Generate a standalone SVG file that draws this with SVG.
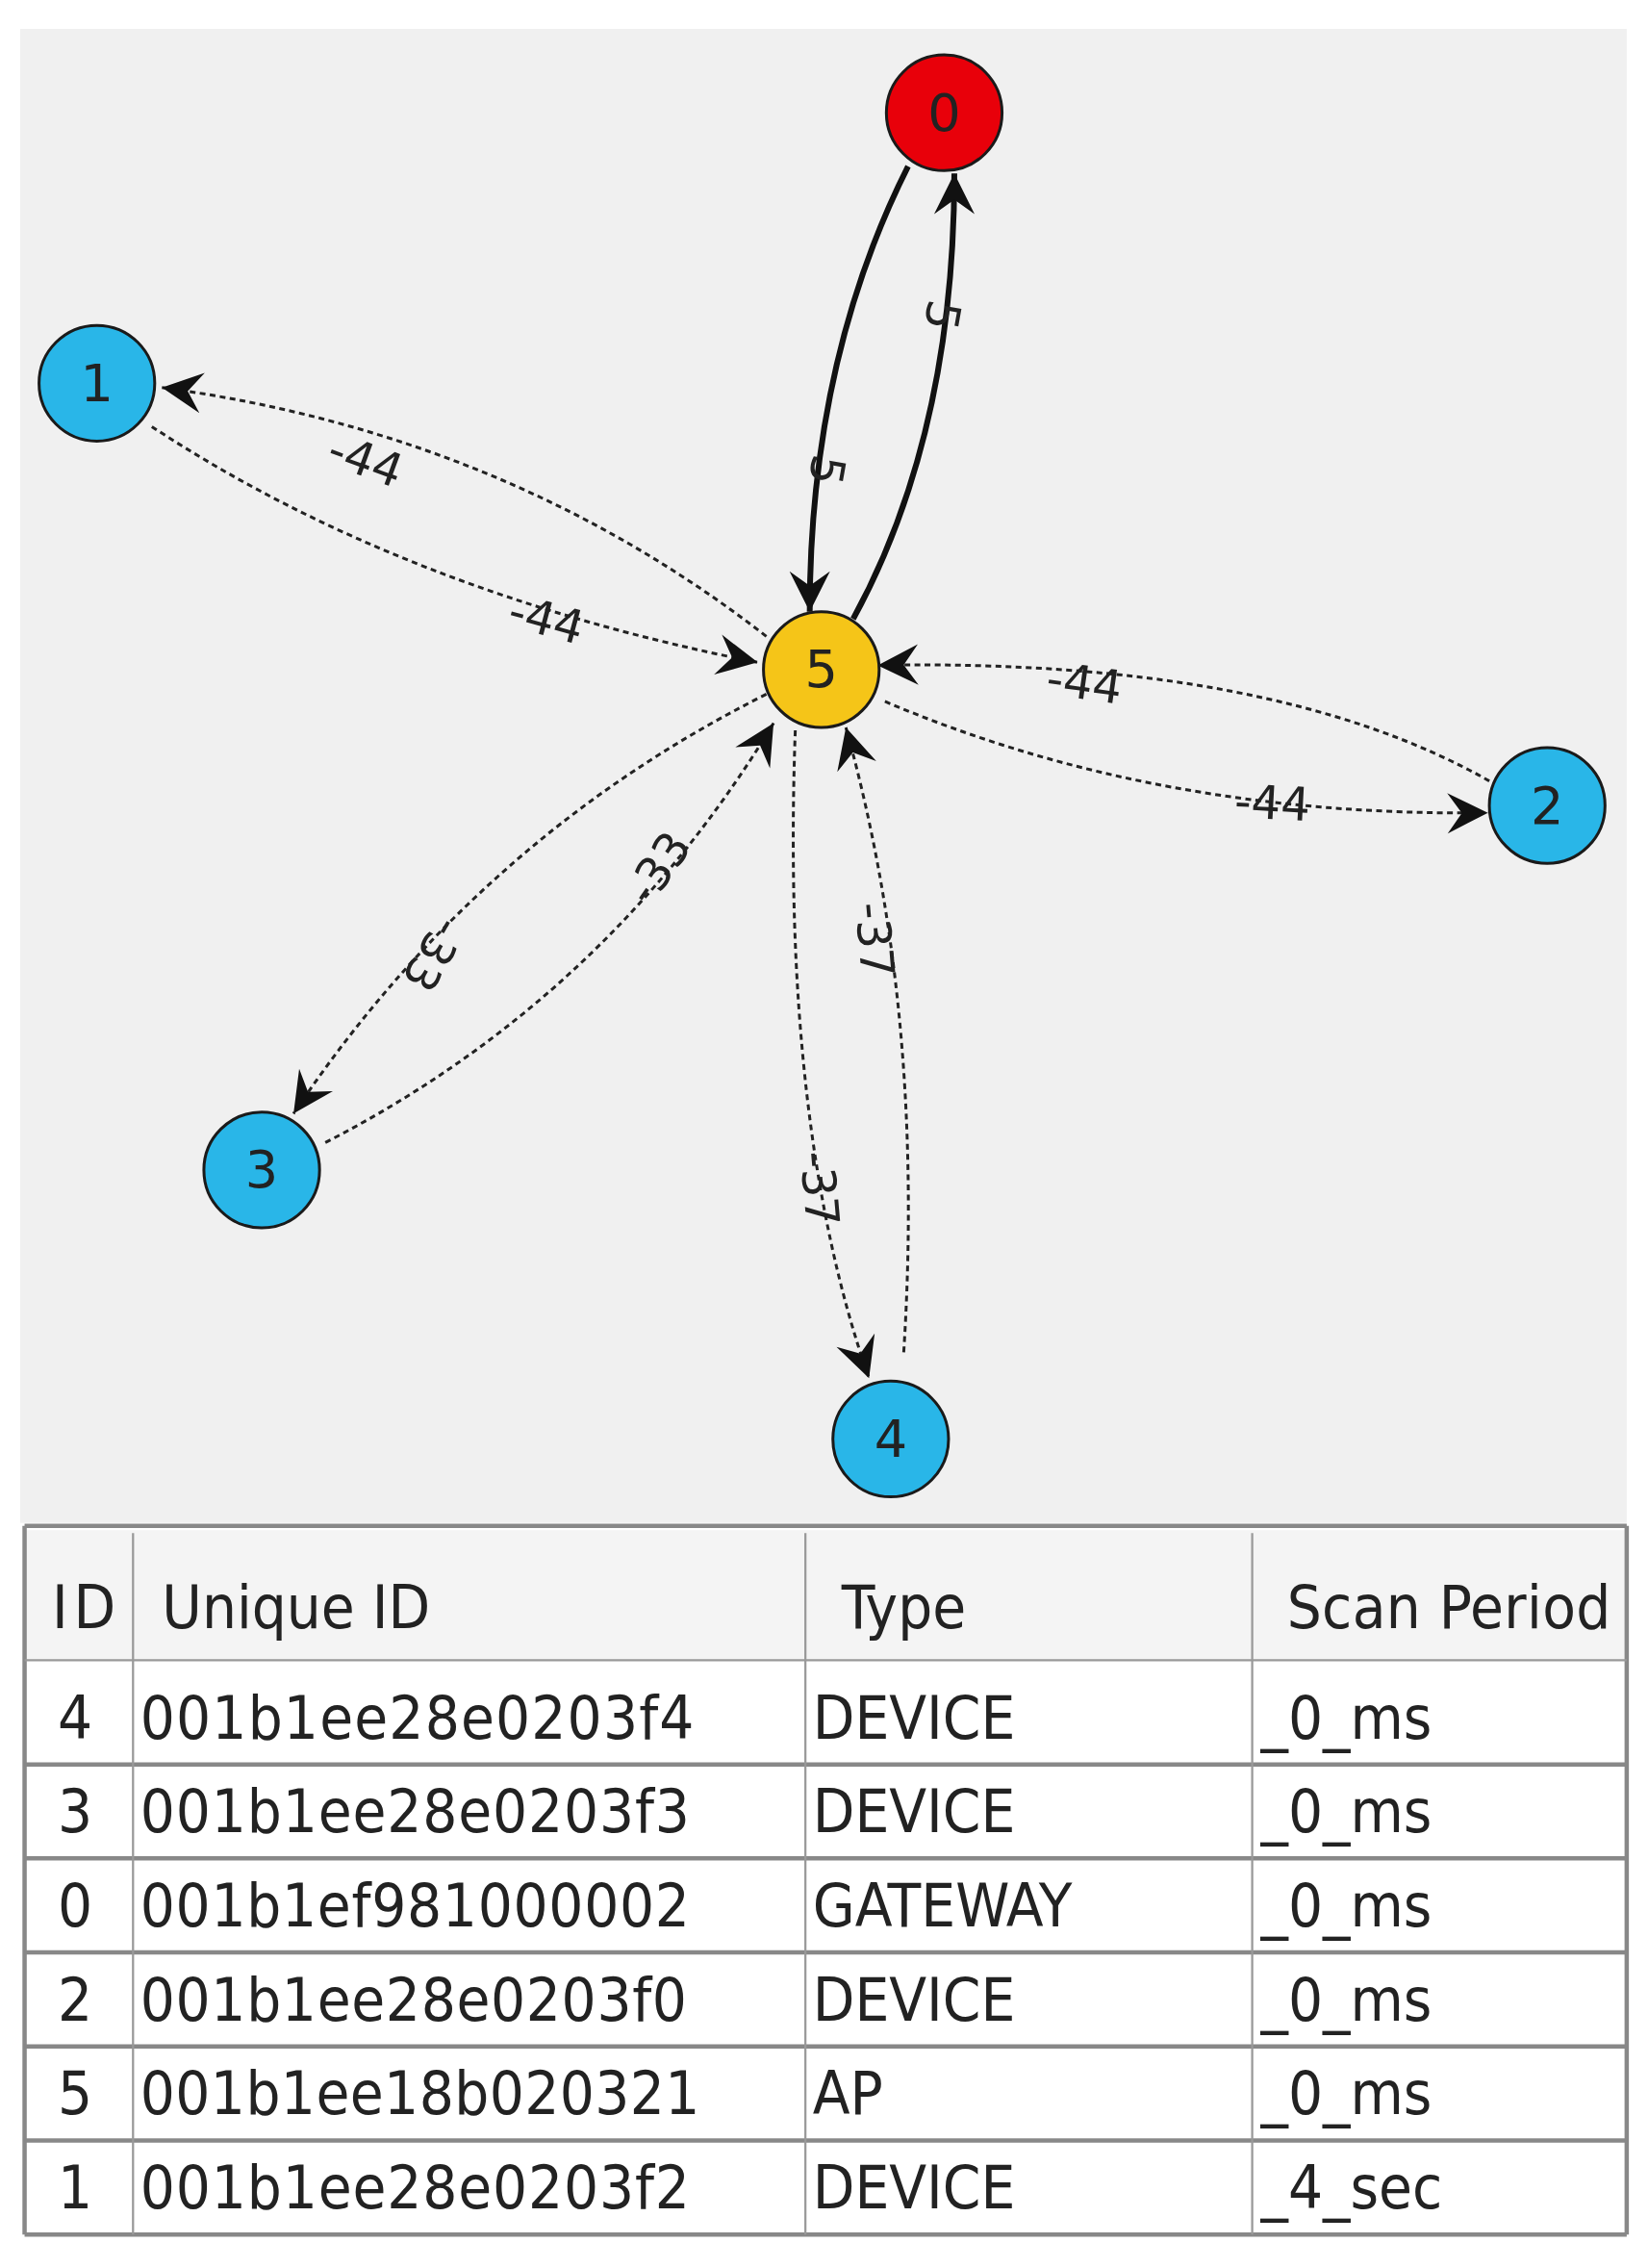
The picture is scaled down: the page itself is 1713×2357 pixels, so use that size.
<svg xmlns="http://www.w3.org/2000/svg" width="1713" height="2357" viewBox="0 0 1713 2357">
<style>
.n{stroke:#1a1a1a;stroke-width:2}
.nt{font-family:"DejaVu Sans",sans-serif;font-size:36px;fill:#222;text-anchor:middle;dominant-baseline:central}
.d{fill:none;stroke:#222;stroke-width:2;stroke-dasharray:4,3}
.s{fill:none;stroke:#111;stroke-width:4}
.el{font-family:"DejaVu Sans",sans-serif;font-size:32px;fill:#222;text-anchor:middle;dominant-baseline:central}
.tt{font-family:"DejaVu Sans Condensed","DejaVu Sans",sans-serif;font-size:42px;fill:#222}
.g{stroke:#888;stroke-width:3}
.gl{stroke:#999;stroke-width:1.5}
</style>
<defs>
<marker id="a" viewBox="-30 -15 32 30" markerWidth="32" markerHeight="30" refX="0" refY="0" orient="auto" markerUnits="userSpaceOnUse">
<path d="M0,0 L-28,-14 L-18,0 L-28,14 z" fill="#111"/>
</marker>
</defs>
<rect width="1713" height="2357" fill="#fff"/>
<g transform="scale(1.503)">
<rect x="14" y="20" width="1111" height="1033" fill="#f0f0f0"/>
<g id="connectors">
<path class="s" d="M628,115 Q560,250 560,423" marker-end="url(#a)"/>
<path class="s" d="M590,428 Q660,300 660,120" marker-end="url(#a)"/>
<path class="d" d="M530,440 Q350,300 112,268" marker-end="url(#a)"/>
<path class="d" d="M105,295 Q280,410 524,458" marker-end="url(#a)"/>
<path class="d" d="M1030,540 Q880,455 607,460" marker-end="url(#a)"/>
<path class="d" d="M612,485 Q800,565 1029,562" marker-end="url(#a)"/>
<path class="d" d="M530,480 Q330,580 203,770" marker-end="url(#a)"/>
<path class="d" d="M225,790 Q420,690 535,500" marker-end="url(#a)"/>
<path class="d" d="M550,505 Q540,780 601,953" marker-end="url(#a)"/>
<path class="d" d="M625,935 Q640,700 585,503" marker-end="url(#a)"/>
<text class="el" transform="translate(572,325) rotate(100)">5</text>
<text class="el" transform="translate(652,218) rotate(100)">5</text>
<text class="el" transform="translate(253,318) rotate(20)">-44</text>
<text class="el" transform="translate(378,428) rotate(15)">-44</text>
<text class="el" transform="translate(750,472) rotate(8)">-44</text>
<text class="el" transform="translate(880,555) rotate(3)">-44</text>
<text class="el" transform="translate(300,660) rotate(120)">-33</text>
<text class="el" transform="translate(455,600) rotate(-55)">-33</text>
<text class="el" transform="translate(567,822) rotate(85)">-37</text>
<text class="el" transform="translate(605,650) rotate(85)">-37</text>
</g>
<g id="node0"><circle class="n" cx="653" cy="78" r="40" fill="#e8000a"/><text class="nt" x="653" y="78">0</text></g>
<g id="node5"><circle class="n" cx="568" cy="463" r="40" fill="#f5c518"/><text class="nt" x="568" y="463">5</text></g>
<g id="node1"><circle class="n" cx="67" cy="265" r="40" fill="#29b6e8"/><text class="nt" x="67" y="265">1</text></g>
<g id="node2"><circle class="n" cx="1070" cy="557" r="40" fill="#29b6e8"/><text class="nt" x="1070" y="557">2</text></g>
<g id="node3"><circle class="n" cx="181" cy="809" r="40" fill="#29b6e8"/><text class="nt" x="181" y="809">3</text></g>
<g id="node4"><circle class="n" cx="616" cy="995" r="40" fill="#29b6e8"/><text class="nt" x="616" y="995">4</text></g>
<g id="table">
<rect x="17" y="1055" width="1108" height="490" fill="#fff"/>
<rect x="17" y="1058" width="1108" height="90" fill="#f4f4f4"/>
<line class="g" x1="17" y1="1055" x2="1125" y2="1055"/>
<line class="g" x1="17" y1="1545" x2="1125" y2="1545"/>
<line class="g" x1="17" y1="1055" x2="17" y2="1545"/>
<line class="g" x1="1125" y1="1055" x2="1125" y2="1545"/>
<line class="gl" x1="17" y1="1148" x2="1125" y2="1148"/>
<line class="g" x1="17" y1="1220" x2="1125" y2="1220"/>
<line class="g" x1="17" y1="1285" x2="1125" y2="1285"/>
<line class="g" x1="17" y1="1350" x2="1125" y2="1350"/>
<line class="g" x1="17" y1="1415" x2="1125" y2="1415"/>
<line class="g" x1="17" y1="1480" x2="1125" y2="1480"/>
<line class="gl" x1="92" y1="1060" x2="92" y2="1545"/>
<line class="gl" x1="557" y1="1060" x2="557" y2="1545"/>
<line class="gl" x1="866" y1="1060" x2="866" y2="1545"/>
<text class="tt" x="36" y="1126" textLength="44">ID</text>
<text class="tt" x="112" y="1126">Unique ID</text>
<text class="tt" x="582" y="1126">Type</text>
<text class="tt" x="890" y="1126" textLength="224">Scan Period</text>
<g class="tt">
<text x="40" y="1202">4</text><text x="97" y="1202" textLength="383">001b1ee28e0203f4</text><text x="562" y="1202">DEVICE</text><text x="872" y="1202">_0_ms</text>
<text x="40" y="1267">3</text><text x="97" y="1267" textLength="380">001b1ee28e0203f3</text><text x="562" y="1267">DEVICE</text><text x="872" y="1267">_0_ms</text>
<text x="40" y="1332">0</text><text x="97" y="1332" textLength="380">001b1ef981000002</text><text x="562" y="1332">GATEWAY</text><text x="872" y="1332">_0_ms</text>
<text x="40" y="1397">2</text><text x="97" y="1397" textLength="378">001b1ee28e0203f0</text><text x="562" y="1397">DEVICE</text><text x="872" y="1397">_0_ms</text>
<text x="40" y="1462">5</text><text x="97" y="1462" textLength="387">001b1ee18b020321</text><text x="562" y="1462">AP</text><text x="872" y="1462">_0_ms</text>
<text x="40" y="1527">1</text><text x="97" y="1527" textLength="380">001b1ee28e0203f2</text><text x="562" y="1527">DEVICE</text><text x="872" y="1527">_4_sec</text>
</g>
</g>
</g>
</svg>
